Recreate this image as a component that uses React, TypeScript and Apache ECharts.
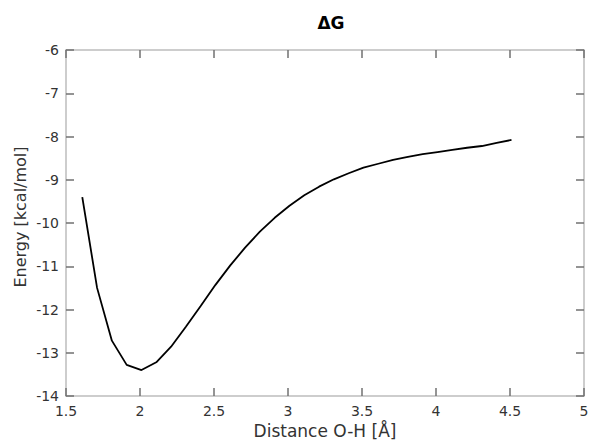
import React, { useEffect, useRef } from "react";
import * as echarts from "echarts";

const distances = [1.61, 1.71, 1.81, 1.91, 2.01, 2.11, 2.21, 2.31, 2.41, 2.51, 2.61, 2.71, 2.81, 2.91, 3.01, 3.11, 3.21, 3.31, 3.41, 3.51, 3.61, 3.71, 3.81, 3.91, 4.01, 4.11, 4.21, 4.31, 4.41, 4.51];
const energies = [-9.4, -11.5, -12.72, -13.28, -13.4, -13.22, -12.86, -12.4, -11.92, -11.43, -10.98, -10.57, -10.2, -9.88, -9.6, -9.36, -9.16, -8.99, -8.85, -8.72, -8.63, -8.54, -8.47, -8.41, -8.36, -8.31, -8.26, -8.22, -8.15, -8.08];
const titleText = "ΔG";
const xName = "Distance O-H [Å]";
const yName = "Energy [kcal/mol]";

const FONT = "DejaVu Sans";

export default function App() {
  const ref = useRef<HTMLDivElement>(null);
  useEffect(() => {
    document.body.style.margin = "0";
    const chart = echarts.init(ref.current!, undefined, { renderer: "svg" });
    const axisLine = { show: true, lineStyle: { color: "#bdbdbd", width: 1.5 } };
    const axisTick = { show: true, inside: true, length: 8, lineStyle: { color: "#707070", width: 1.5 } };
    const data = distances.map((d, i) => [d, energies[i]]);
    chart.setOption({
      animation: false,
      backgroundColor: "#ffffff",
      textStyle: { fontFamily: FONT },
      title: {
        text: titleText,
        left: 326,
        top: 9,
        textAlign: "center",
        textStyle: { fontFamily: FONT, fontSize: 17, fontWeight: "bold", color: "#000" },
      },
      grid: { left: 66, right: 6, top: 50, bottom: 49, containLabel: false, outerBoundsMode: "none" },
      graphic: [
        {
          type: "text",
          x: 20,
          y: 217,
          rotation: Math.PI / 2,
          style: {
            text: yName,
            fontFamily: FONT,
            fontSize: 16,
            fill: "#333",
            textAlign: "center",
            textVerticalAlign: "middle",
          },
        },
      ],
      xAxis: [
        {
          type: "value",
          min: 1.5,
          max: 5,
          interval: 0.5,
          position: "bottom",
          axisLine,
          axisTick,
          splitLine: { show: false },
          axisLabel: { fontFamily: FONT, fontSize: 14, color: "#333", margin: 8 },
          name: xName,
          nameLocation: "middle",
          nameGap: 25,
          nameTextStyle: { fontFamily: FONT, fontSize: 17, color: "#333" },
        },
        {
          type: "value",
          min: 1.5,
          max: 5,
          interval: 0.5,
          position: "top",
          axisLine,
          axisTick,
          splitLine: { show: false },
          axisLabel: { show: false },
        },
      ],
      yAxis: [
        {
          type: "value",
          min: -14,
          max: -6,
          interval: 1,
          position: "left",
          axisLine,
          axisTick,
          splitLine: { show: false },
          axisLabel: { fontFamily: FONT, fontSize: 14, color: "#333", margin: 7 },
        },
        {
          type: "value",
          min: -14,
          max: -6,
          interval: 1,
          position: "right",
          axisLine,
          axisTick,
          splitLine: { show: false },
          axisLabel: { show: false },
        },
      ],
      series: [
        {
          type: "line",
          data,
          xAxisIndex: 0,
          yAxisIndex: 0,
          showSymbol: false,
          symbol: "none",
          lineStyle: { color: "#000", width: 1.8 },
        },
      ],
    });
    return () => chart.dispose();
  }, []);
  return <div ref={ref} style={{ width: 590, height: 445, position: "absolute", left: 0, top: 0 }} />;
}
